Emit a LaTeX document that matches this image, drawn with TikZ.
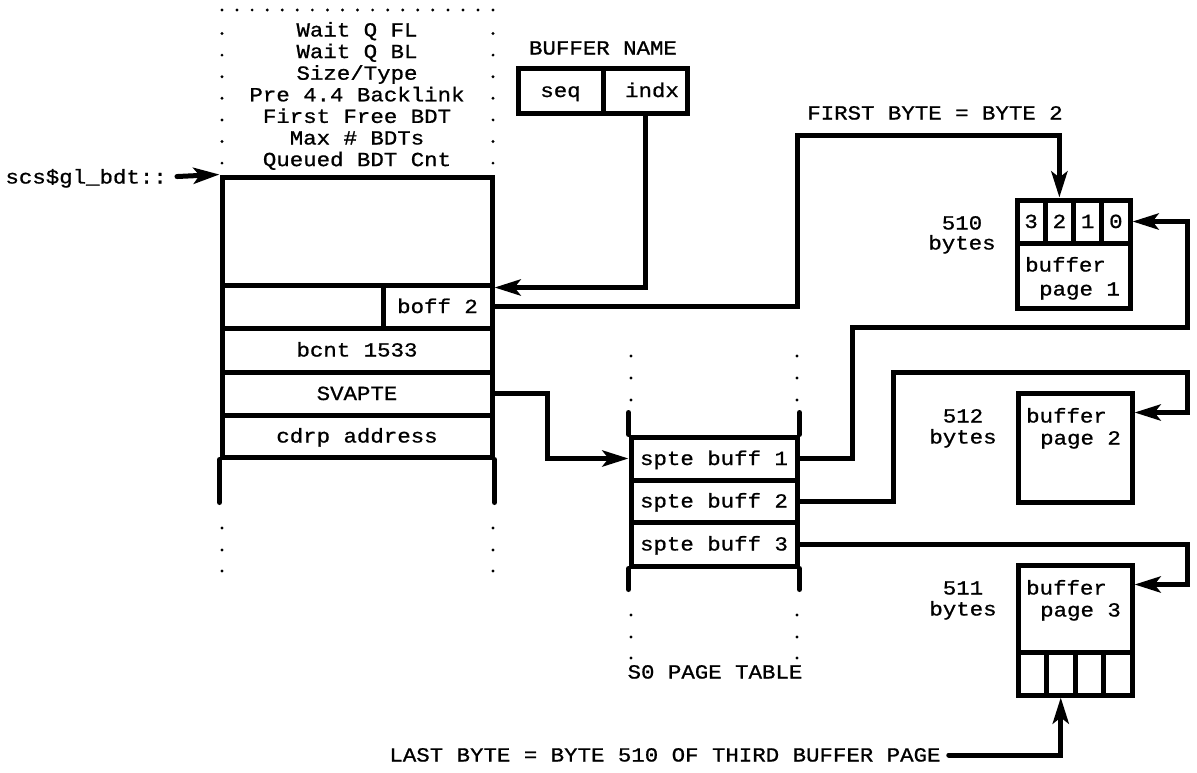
\documentclass[tikz,border=0pt]{standalone}
\usepackage{fontspec}
\newfontfamily\cour[FakeStretch=1.12,FakeBold=0.9]{Liberation Mono}
\usetikzlibrary{arrows.meta,calc}
\begin{document}
\begin{tikzpicture}[x=1pt,y=-1pt,
  ln/.style={line width=5pt,line cap=round},
  conn/.style={line width=5pt,line join=miter,-{Stealth[length=26pt,width=16pt,inset=6pt]}},
  fld/.style={draw,line width=5pt,inner sep=0pt,font=\cour\fontsize{20}{22}\selectfont,text height=13pt,text depth=0pt},
  txt/.style={inner sep=0pt,font=\cour\fontsize{20}{22}\selectfont,text height=13pt,text depth=0pt},
  dotn/.style={circle,fill,inner sep=0pt,minimum size=3.2pt}]
\useasboundingbox (0,0) rectangle (1197,772);

% header text of the BDT
\foreach \t [count=\i] in {Wait Q FL,Wait Q BL,Size/Type,Pre 4.4 Backlink,First Free BDT,Max \# BDTs,Queued BDT Cnt}
  \node[txt] (h\i) at (357,{30+21.6*(\i-1)}) {\t};
\foreach \i in {1,...,7} {
  \node[dotn] (dl\i) at (222,{33.5+21.6*(\i-1)}) {};
  \node[dotn] (dr\i) at (493,{33.5+21.6*(\i-1)}) {};
}
\foreach \k in {0,...,18}
  \node[dotn] (dt\k) at ({222+\k*15.06},10) {};

% BDT fields
\node[fld,minimum width=270pt,minimum height=108pt] (hdr) at (357,231) {};
\node[fld,minimum width=161pt,minimum height=43pt] (blank) at (302.5,306.5) {};
\node[fld,minimum width=109pt,minimum height=43pt] (boff) at (437.5,306.5) {boff 2\hspace{13pt}};
\node[fld,minimum width=270pt,minimum height=44pt] (bcnt) at (357,350) {bcnt 1533};
\node[fld,minimum width=270pt,minimum height=43pt] (svapte) at (357,393.5) {SVAPTE};
\node[fld,minimum width=270pt,minimum height=42pt] (cdrp) at (357,436) {cdrp address};
\draw[ln] (cdrp.south west) -- ++(0,43);
\draw[ln] (cdrp.south east) -- ++(0,43);
\foreach \i/\y in {1/528,2/550,3/571} {
  \node[dotn] (bl\i) at (222,\y) {};
  \node[dotn] (br\i) at (493,\y) {};
}

% entry pointer
\node[txt,anchor=east] (scs) at (167,177) {scs\$gl\_bdt::};
\draw[conn,line cap=round,shorten <=10pt] (scs.east) -- (hdr.north west);

% buffer name
\node[txt] (bname) at (603,48) {BUFFER NAME};
\node[fld,minimum width=85pt,minimum height=45pt] (seq) at (560.5,90.5) {seq\hspace{25pt}};
\node[fld,minimum width=84pt,minimum height=45pt] (indx) at (645,90.5) {\hspace{14pt}indx};
\draw[conn] (indx.south) |- (hdr.south east);

% S0 page table
\node[fld,minimum width=166pt,minimum height=43pt] (spte1) at (714,458.5) {spte buff 1};
\node[fld,minimum width=166pt,minimum height=42pt] (spte2) at (714,501) {spte buff 2};
\node[fld,minimum width=166pt,minimum height=44pt] (spte3) at (714,544) {spte buff 3};
\draw[ln] (spte1.north west) -- ++(0,-22);
\draw[ln] (spte1.north east) -- ++(0,-22);
\draw[ln] (spte3.south west) -- ++(0,21);
\draw[ln] (spte3.south east) -- ++(0,21);
\foreach \i/\y in {1/356,2/378,3/400,4/615,5/637,6/658} {
  \node[dotn] (sl\i) at (631,\y) {};
  \node[dotn] (sr\i) at (797,\y) {};
}
\node[txt] (s0) at (715,672) {S0 PAGE TABLE};
\coordinate (k7) at (547,393.5);
\draw[conn] (svapte.east) -- (k7) |- (spte1.west);

% buffer page 1
\node[fld,minimum width=113pt,minimum height=108pt] (buf1) at (1073.5,254) {};
\foreach \d [count=\i] in {3,2,1,0}
  \node[fld,minimum width=28.25pt,minimum height=43pt] (c\d) at ({1017+28.25*\i-14.125},221.5) {\d};
\node[txt,anchor=west] (b1a) at (1025,265) {buffer};
\node[txt,anchor=west] (b1b) at (1039,289) {page 1};
\node[txt] (n1a) at (962,223) {510};
\node[txt] (n1b) at (962,243) {bytes};

% buffer page 2
\node[fld,minimum width=114pt,minimum height=109pt] (buf2) at (1075,447.5) {};
\node[txt,anchor=west] (b2a) at (1026,416) {buffer};
\node[txt,anchor=west] (b2b) at (1040,438) {page 2};
\node[txt] (n2a) at (963,416) {512};
\node[txt] (n2b) at (963,437) {bytes};

% buffer page 3
\node[fld,minimum width=114pt,minimum height=130pt] (buf3) at (1075,630) {};
\foreach \i in {1,...,4}
  \node[fld,minimum width=28.5pt,minimum height=43pt] (e\i) at ({1018+28.5*\i-14.25},673.5) {};
\node[txt,anchor=west] (b3a) at (1026,588) {buffer};
\node[txt,anchor=west] (b3b) at (1040,610) {page 3};
\node[txt] (n3a) at (963,588) {511};
\node[txt] (n3b) at (963,609) {bytes};

% pointers to buffer pages
\node[txt] (fb) at (935,113) {FIRST BYTE = BYTE 2};
\coordinate (k1) at (797,135);
\draw[conn] (boff.east) -| (k1) -| (c2.north);
\coordinate (k2) at (852,327);
\coordinate (k3) at (1187,327);
\draw[conn] (spte1.east) -| (k2) -- (k3) |- (c0.east);
\coordinate (k4) at (893,372);
\coordinate (k5) at (1187,372);
\draw[conn] (spte2.east) -| (k4) -- (k5) |- ($(buf2.north east)+(0,22)$);
\coordinate (k6) at (1187,544);
\draw[conn] (spte3.east) -- (k6) |- ($(buf3.north east)+(0,22)$);

% last byte
\node[txt] (lb) at (665,755) {LAST BYTE = BYTE 510 OF THIRD BUFFER PAGE};
\draw[conn,line cap=round,shorten <=8pt] (lb.east) -| (e2.south);
\end{tikzpicture}
\end{document}
